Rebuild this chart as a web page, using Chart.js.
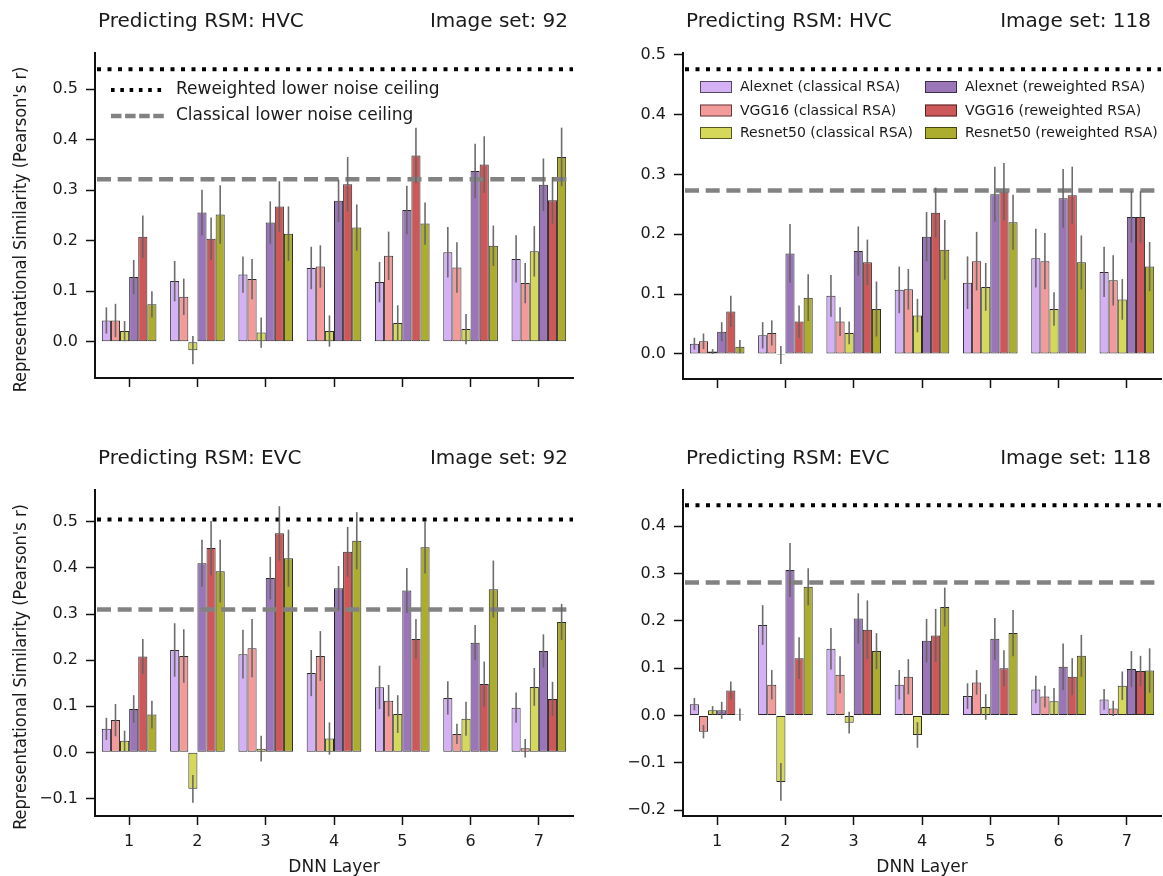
<!DOCTYPE html>
<html>
<head>
<meta charset="utf-8">
<script src="https://cdn.jsdelivr.net/npm/chart.js@4.4.1/dist/chart.umd.min.js"></script>
<style>
  html, body { margin: 0; padding: 0; background: #fff; }
  #wrap { position: relative; width: 1163px; height: 876px; overflow: hidden; }
  #wrap canvas { position: absolute; }
</style>
</head>
<body>
<div id="wrap">
  <canvas id="hvc92" width="590" height="438" style="left:0;top:0"></canvas>
  <canvas id="hvc118" width="573" height="438" style="left:590px;top:0"></canvas>
  <canvas id="evc92" width="590" height="438" style="left:0;top:438px"></canvas>
  <canvas id="evc118" width="573" height="438" style="left:590px;top:438px"></canvas>
</div>
<script>
var layers = ['1', '2', '3', '4', '5', '6', '7'];
var seriesNames = [
  'Alexnet (classical RSA)', 'VGG16 (classical RSA)', 'Resnet50 (classical RSA)',
  'Alexnet (reweighted RSA)', 'VGG16 (reweighted RSA)', 'Resnet50 (reweighted RSA)'
];
var seriesColors = ['#d4b0f4', '#f39a9a', '#d6d85a', '#9a76b8', '#cd585a', '#acac2e'];

// one row per series (same order as seriesNames), one column per layer
var hvc92Values = [
  [0.042, 0.120, 0.133, 0.146, 0.118, 0.177, 0.164],
  [0.042, 0.089, 0.124, 0.149, 0.170, 0.147, 0.116],
  [0.021, -0.017, 0.018, 0.021, 0.037, 0.025, 0.179],
  [0.128, 0.256, 0.236, 0.279, 0.261, 0.338, 0.311],
  [0.208, 0.204, 0.268, 0.312, 0.369, 0.351, 0.280],
  [0.074, 0.252, 0.214, 0.226, 0.234, 0.190, 0.366]
];
var hvc92Errors = [
  [0.026, 0.040, 0.036, 0.042, 0.040, 0.050, 0.047],
  [0.033, 0.036, 0.040, 0.042, 0.048, 0.050, 0.040],
  [0.020, 0.028, 0.030, 0.031, 0.035, 0.030, 0.050],
  [0.034, 0.045, 0.042, 0.042, 0.048, 0.054, 0.052],
  [0.042, 0.042, 0.050, 0.054, 0.055, 0.056, 0.046],
  [0.026, 0.058, 0.054, 0.046, 0.042, 0.040, 0.058]
];

var hvc118Values = [
  [0.017, 0.031, 0.097, 0.107, 0.119, 0.160, 0.137],
  [0.021, 0.035, 0.054, 0.108, 0.155, 0.155, 0.123],
  [0.004, -0.002, 0.035, 0.064, 0.112, 0.075, 0.091],
  [0.037, 0.168, 0.172, 0.196, 0.267, 0.260, 0.229],
  [0.071, 0.054, 0.153, 0.236, 0.271, 0.265, 0.229],
  [0.012, 0.094, 0.075, 0.174, 0.220, 0.153, 0.146]
];
var hvc118Errors = [
  [0.010, 0.022, 0.035, 0.039, 0.044, 0.049, 0.042],
  [0.013, 0.021, 0.024, 0.034, 0.049, 0.047, 0.042],
  [0.004, 0.015, 0.019, 0.028, 0.040, 0.028, 0.034],
  [0.016, 0.049, 0.041, 0.041, 0.046, 0.049, 0.043],
  [0.026, 0.027, 0.038, 0.042, 0.048, 0.048, 0.043],
  [0.011, 0.039, 0.046, 0.050, 0.046, 0.045, 0.041]
];

var evc92Values = [
  [0.051, 0.222, 0.213, 0.172, 0.141, 0.118, 0.097],
  [0.070, 0.209, 0.226, 0.209, 0.112, 0.040, 0.009],
  [0.025, -0.079, 0.008, 0.030, 0.083, 0.073, 0.142],
  [0.094, 0.410, 0.378, 0.356, 0.351, 0.238, 0.220],
  [0.208, 0.443, 0.475, 0.435, 0.246, 0.148, 0.116],
  [0.082, 0.393, 0.421, 0.459, 0.445, 0.354, 0.283]
];
var evc92Errors = [
  [0.024, 0.058, 0.053, 0.050, 0.047, 0.036, 0.033],
  [0.035, 0.058, 0.063, 0.054, 0.034, 0.022, 0.020],
  [0.022, 0.030, 0.028, 0.035, 0.041, 0.037, 0.041],
  [0.030, 0.051, 0.046, 0.048, 0.049, 0.038, 0.036],
  [0.038, 0.059, 0.059, 0.054, 0.043, 0.049, 0.037],
  [0.030, 0.068, 0.062, 0.062, 0.057, 0.062, 0.039]
];

var evc118Values = [
  [0.024, 0.191, 0.141, 0.065, 0.041, 0.055, 0.034],
  [-0.034, 0.065, 0.086, 0.082, 0.070, 0.040, 0.015],
  [0.011, -0.140, -0.015, -0.041, 0.018, 0.030, 0.063],
  [0.011, 0.307, 0.205, 0.158, 0.162, 0.103, 0.098],
  [0.053, 0.121, 0.181, 0.169, 0.100, 0.082, 0.094],
  [0.002, 0.272, 0.136, 0.229, 0.174, 0.126, 0.095]
];
var evc118Errors = [
  [0.013, 0.042, 0.044, 0.031, 0.027, 0.029, 0.022],
  [0.014, 0.031, 0.039, 0.037, 0.026, 0.023, 0.016],
  [0.009, 0.040, 0.023, 0.027, 0.027, 0.028, 0.030],
  [0.018, 0.057, 0.053, 0.046, 0.044, 0.049, 0.038],
  [0.019, 0.044, 0.062, 0.056, 0.038, 0.039, 0.032],
  [0.013, 0.039, 0.038, 0.041, 0.049, 0.044, 0.047]
];

// lower noise ceilings, panels in order hvc92, hvc118, evc92, evc118
var reweightedCeiling = [0.540, 0.476, 0.505, 0.444];
var classicalCeiling = [0.322, 0.273, 0.310, 0.281];

var FONT = '"DejaVu Sans", Verdana, sans-serif';
var INK = '#1a1a1a';

function fmtTick(v) {
  var s = Math.abs(v) < 1e-9 ? '0.0' : v.toFixed(1);
  return s.replace('-', '\u2212');
}

function hLine(ctx, x0, x1, y, width, color, dash) {
  ctx.lineWidth = width;
  ctx.strokeStyle = color;
  ctx.setLineDash(dash);
  ctx.beginPath();
  ctx.moveTo(x0, y);
  ctx.lineTo(x1, y);
  ctx.stroke();
}

// ceilings, error bars, panel titles, y title and the in-plot legends
var panelDecor = {
  id: 'panelDecor',
  afterDatasetsDraw: function (chart, args, opts) {
    var ctx = chart.ctx, area = chart.chartArea, y = chart.scales.y;
    ctx.save();
    ctx.lineCap = 'butt';
    hLine(ctx, area.left + 2, area.right, y.getPixelForValue(opts.reweighted), 4, '#000', [4, 6.5]);
    hLine(ctx, area.left + 2, area.right, y.getPixelForValue(opts.classical), 4.5, '#828282', [14, 6.7]);

    ctx.setLineDash([]);
    ctx.lineWidth = 1.6;
    ctx.strokeStyle = 'rgba(100,100,100,0.95)';
    chart.data.datasets.forEach(function (ds, i) {
      chart.getDatasetMeta(i).data.forEach(function (bar, j) {
        var v = ds.data[j], e = ds.errors[j];
        ctx.beginPath();
        ctx.moveTo(bar.x, y.getPixelForValue(v - e));
        ctx.lineTo(bar.x, y.getPixelForValue(v + e));
        ctx.stroke();
      });
    });
    ctx.restore();
  },
  afterDraw: function (chart, args, opts) {
    var ctx = chart.ctx, area = chart.chartArea;
    ctx.save();
    ctx.fillStyle = INK;
    ctx.textBaseline = 'middle';
    ctx.font = '20px ' + FONT;
    ctx.textAlign = 'left';
    ctx.fillText(opts.title, area.left + 3, area.top - 31);
    ctx.textAlign = 'right';
    ctx.fillText(opts.imageSet, area.right - opts.titleInset, area.top - 31);

    if (opts.yTitle) {
      ctx.save();
      ctx.translate(21, (area.top + area.bottom) / 2 + 14);
      ctx.rotate(-Math.PI / 2);
      ctx.textAlign = 'center';
      ctx.font = '18px "DejaVu Sans Condensed", ' + FONT;
      ctx.fillText(opts.yTitle, 0, 0);
      ctx.restore();
    }

    ctx.textAlign = 'left';
    if (opts.legend === 'ceilings') {
      ctx.font = '17px ' + FONT;
      hLine(ctx, area.left + 16, area.left + 69, area.top + 37, 4, '#000', [3.6, 5.7]);
      hLine(ctx, area.left + 16, area.left + 69, area.top + 63, 4.5, '#828282', [10.5, 3.6]);
      ctx.setLineDash([]);
      ctx.fillStyle = INK;
      ctx.fillText('Reweighted lower noise ceiling', area.left + 81, area.top + 37);
      ctx.fillText('Classical lower noise ceiling', area.left + 81, area.top + 63);
    } else if (opts.legend === 'models') {
      ctx.font = '14px ' + FONT;
      var rows = [34, 57.5, 80];
      var cols = [17, 242];
      seriesNames.forEach(function (name, i) {
        var bx = area.left + cols[Math.floor(i / 3)];
        var by = area.top + rows[i % 3];
        ctx.fillStyle = seriesColors[i];
        ctx.fillRect(bx, by - 6, 32, 12);
        ctx.lineWidth = 1;
        ctx.strokeStyle = 'rgba(0,0,0,0.6)';
        ctx.strokeRect(bx + 0.5, by - 5.5, 31, 11);
        ctx.fillStyle = INK;
        ctx.fillText(name, bx + 40, by + 0.5);
      });
    }
    ctx.restore();
  }
};

function makePanel(id, values, errors, p) {
  var datasets = seriesNames.map(function (name, i) {
    return {
      label: name,
      data: values[i],
      errors: errors[i],
      backgroundColor: seriesColors[i],
      borderColor: '#2b2b2b',
      borderWidth: 1,
      borderSkipped: false,
      inflateAmount: 0,
      categoryPercentage: 0.8,
      barPercentage: 1.0
    };
  });

  var axisGrid = {
    drawOnChartArea: false,
    drawTicks: true,
    tickLength: 9,
    tickWidth: 1.5,
    tickColor: '#111',
    offset: false
  };

  return new Chart(document.getElementById(id), {
    type: 'bar',
    data: { labels: layers, datasets: datasets },
    options: {
      responsive: false,
      animation: false,
      layout: { padding: { top: p.top, right: p.right, left: 0, bottom: 0 } },
      plugins: {
        legend: { display: false },
        tooltip: { enabled: false },
        panelDecor: {
          title: p.title,
          imageSet: p.imageSet,
          titleInset: p.titleInset,
          legend: p.legend,
          yTitle: p.showY ? "Representational Similarity (Pearson's r)" : null,
          reweighted: p.reweighted,
          classical: p.classical
        }
      },
      scales: {
        x: {
          offset: true,
          grid: axisGrid,
          border: { color: '#111', width: 2 },
          ticks: { display: p.showX, color: INK, padding: 7, font: { family: FONT, size: 16 } },
          title: {
            display: p.showX,
            text: 'DNN Layer',
            color: INK,
            padding: { top: 0, bottom: 0 },
            font: { family: FONT, size: 17, lineHeight: 1 }
          },
          afterFit: function (s) { s.height = p.xHeight; }
        },
        y: {
          min: p.min,
          max: p.max,
          grid: axisGrid,
          border: { color: '#111', width: 2 },
          ticks: {
            stepSize: 0.1,
            includeBounds: false,
            padding: 8,
            color: INK,
            font: { family: FONT, size: 16 },
            callback: fmtTick
          },
          afterFit: function (s) { s.width = p.yWidth; }
        }
      }
    },
    plugins: [panelDecor]
  });
}

makePanel('hvc92', hvc92Values, hvc92Errors, {
  title: 'Predicting RSM: HVC', imageSet: 'Image set: 92', titleInset: 5, legend: 'ceilings',
  reweighted: reweightedCeiling[0], classical: classicalCeiling[0],
  min: -0.072, max: 0.572, top: 53, right: 17, yWidth: 95, xHeight: 60, showX: false, showY: true
});
makePanel('hvc118', hvc118Values, hvc118Errors, {
  title: 'Predicting RSM: HVC', imageSet: 'Image set: 118', titleInset: 10, legend: 'models',
  reweighted: reweightedCeiling[1], classical: classicalCeiling[1],
  min: -0.042, max: 0.503, top: 53, right: 2, yWidth: 93, xHeight: 59, showX: false, showY: false
});
makePanel('evc92', evc92Values, evc92Errors, {
  title: 'Predicting RSM: EVC', imageSet: 'Image set: 92', titleInset: 5, legend: null,
  reweighted: reweightedCeiling[2], classical: classicalCeiling[2],
  min: -0.138, max: 0.569, top: 52, right: 17, yWidth: 95, xHeight: 60, showX: true, showY: true
});
makePanel('evc118', evc118Values, evc118Errors, {
  title: 'Predicting RSM: EVC', imageSet: 'Image set: 118', titleInset: 10, legend: null,
  reweighted: reweightedCeiling[3], classical: classicalCeiling[3],
  min: -0.212, max: 0.476, top: 52, right: 2, yWidth: 93, xHeight: 60, showX: true, showY: false
});
</script>
</body>
</html>
